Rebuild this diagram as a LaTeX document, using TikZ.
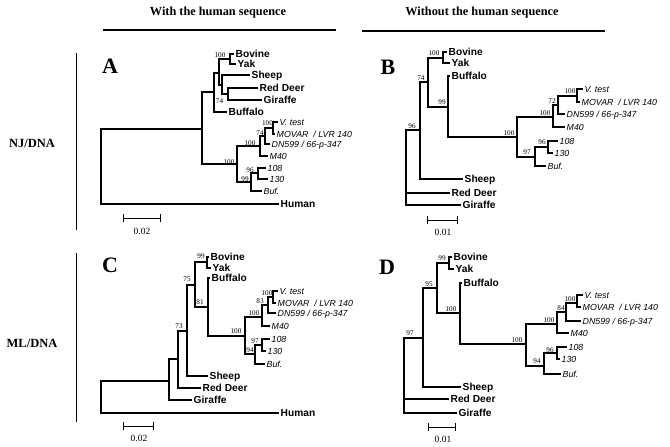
\documentclass[tikz,border=0pt]{standalone}
\usepackage{fontspec}
\setmainfont{Liberation Serif}
\newfontfamily\hv{Liberation Sans}
\begin{document}
\begin{tikzpicture}[x=1pt,y=-1pt,
  tree/.style={line width=1.05pt},
  rule/.style={line width=1.2pt},
  leaf/.style={anchor=west,font=\hv\bfseries\fontsize{10.2}{12}\selectfont,inner xsep=1.5pt,inner ysep=0pt,text height=7.2pt,text depth=0pt},
  vir/.style={anchor=west,font=\hv\itshape\fontsize{8.8}{10}\selectfont,inner xsep=1.5pt,inner ysep=0pt,text height=6.3pt,text depth=0pt},
  bs/.style={font=\fontsize{7.2}{8}\selectfont,inner sep=0pt},
  head/.style={font=\bfseries\fontsize{12.3}{14}\selectfont,inner sep=0pt},
  side/.style={font=\bfseries\fontsize{12.5}{14}\selectfont,inner sep=0pt},
  letter/.style={font=\bfseries\fontsize{22}{24}\selectfont,inner sep=0pt},
  sbar/.style={line width=1pt,|-|},
  sblab/.style={font=\fontsize{9.5}{10}\selectfont,inner sep=0pt}]
\useasboundingbox (0,0) rectangle (670,447);
% headers
\node[head] (h1) at (218,13) {With the human sequence};
\node[head] (h2) at (482,13) {Without the human sequence};
\coordinate (l1a) at (103,30); \coordinate (l1b) at (336,30);
\coordinate (l2a) at (362,31); \coordinate (l2b) at (605,31);
\draw[rule] (l1a) -- (l1b); \draw[rule] (l2a) -- (l2b);
\node[side] (nj) at (32,143) {NJ/DNA};
\node[side] (ml) at (32,343) {ML/DNA};
\coordinate (v1a) at (76,53); \coordinate (v1b) at (76,230);
\coordinate (v2a) at (76,253); \coordinate (v2b) at (76,422);
\draw[line width=0.9pt] (v1a) -- (v1b) (v2a) -- (v2b);
\node[letter] (LA) at (110,66) {A};
\node[letter] (LB) at (388,67) {B};
\node[letter] (LC) at (110,265) {C};
\node[letter] (LD) at (387,267) {D};

% ================= Tree A =================
\coordinate (rA) at (101,166);
\coordinate (a1) at (202,129);
\coordinate (a2) at (214,92);
\coordinate (a3) at (237,164);
\coordinate (a4) at (219,73);
\coordinate (aBY) at (230,59);
\coordinate (a5) at (222,85);
\coordinate (aRG) at (228,94);
\coordinate (am) at (260,146);
\coordinate (a74) at (265,136);
\coordinate (avm) at (273,128);
\coordinate (a99) at (251,182);
\coordinate (a96) at (258,173);
\node[leaf] (aBov) at (234,54) {Bovine};
\node[leaf] (aYak) at (236,64) {Yak};
\node[leaf] (aShe) at (250,75) {Sheep};
\node[leaf] (aRed) at (258,88) {Red Deer};
\node[leaf] (aGir) at (262,100) {Giraffe};
\node[leaf] (aBuf) at (227,112) {Buffalo};
\node[leaf] (aHum) at (279,204) {Human};
\node[vir] (aVt) at (278,122) {V. test};
\node[vir] (aMo) at (275,134) {MOVAR\ \ / LVR 140};
\node[vir] (aDn) at (270,144) {DN599 / 66-p-347};
\node[vir] (aM4) at (268,156) {M40};
\node[vir] (a108) at (266,168) {108};
\node[vir] (a130) at (268,179) {130};
\node[vir] (aBu) at (262,191) {Buf.};
\draw[tree] (rA) |- (a1) (rA) |- (aHum.west)
 (a1) |- (a2) (a1) |- (a3)
 (a2) |- (a4) (a2) |- (aBuf.west)
 (a4) |- (aBY) (a4) |- (a5)
 (aBY) |- (aBov.west) (aBY) |- (aYak.west)
 (a5) |- (aShe.west) (a5) |- (aRG)
 (aRG) |- (aRed.west) (aRG) |- (aGir.west)
 (a3) |- (am) (a3) |- (a99)
 (am) |- (a74) (am) |- (aM4.west)
 (a74) |- (avm) (a74) |- (aDn.west)
 (avm) |- (aVt.west) (avm) |- (aMo.west)
 (a99) |- (a96) (a99) |- (aBu.west)
 (a96) |- (a108.west) (a96) |- (a130.west);
\node[bs] (bA1) at (220,55) {100};
\node[bs] (bA2) at (219.5,101) {74};
\node[bs] (bA3) at (267.5,123) {100};
\node[bs] (bA4) at (260,133) {74};
\node[bs] (bA5) at (250,143) {100};
\node[bs] (bA6) at (229,162) {100};
\node[bs] (bA7) at (250,170) {96};
\node[bs] (bA8) at (245,179) {99};
\coordinate (sA1) at (123,218); \coordinate (sA2) at (161,218);
\draw[sbar] (sA1) -- (sA2);
\node[sblab] (sAl) at (142,231) {0.02};

% ================= Tree B =================
\coordinate (rB) at (406,167);
\coordinate (b96) at (420,130);
\coordinate (b74) at (428,82);
\coordinate (bBY) at (443,58);
\coordinate (b99) at (448,107);
\coordinate (b100) at (517,137);
\coordinate (bm) at (553,117);
\coordinate (b72) at (558,105);
\coordinate (bvm) at (577,96);
\coordinate (b97) at (535,157);
\coordinate (b96b) at (548,147);
\node[leaf] (bBov) at (447,52) {Bovine};
\node[leaf] (bYak) at (450,63) {Yak};
\node[leaf] (bBuf) at (450,76) {Buffalo};
\node[leaf] (bShe) at (463,179) {Sheep};
\node[leaf] (bRed) at (450,193) {Red Deer};
\node[leaf] (bGir) at (461,205) {Giraffe};
\node[vir] (bVt) at (583,89) {V. test};
\node[vir] (bMo) at (580,102) {MOVAR\ \ / LVR 140};
\node[vir] (bDn) at (565,114) {DN599 / 66-p-347};
\node[vir] (bM4) at (565,127) {M40};
\node[vir] (b108) at (558,141) {108};
\node[vir] (b130) at (553,153) {130};
\node[vir] (bBu) at (546,166) {Buf.};
\draw[tree] (rB) |- (b96) (rB) |- (bRed.west) (rB) |- (bGir.west)
 (b96) |- (b74) (b96) |- (bShe.west)
 (b74) |- (bBY) (b74) |- (b99)
 (bBY) |- (bBov.west) (bBY) |- (bYak.west)
 (b99) |- (bBuf.west) (b99) |- (b100)
 (b100) |- (bm) (b100) |- (b97)
 (bm) |- (b72) (bm) |- (bM4.west)
 (b72) |- (bvm) (b72) |- (bDn.west)
 (bvm) |- (bVt.west) (bvm) |- (bMo.west)
 (b97) |- (b96b) (b97) |- (bBu.west)
 (b96b) |- (b108.west) (b96b) |- (b130.west);
\node[bs] (bB1) at (434,53) {100};
\node[bs] (bB2) at (421,78) {74};
\node[bs] (bB3) at (412,126) {96};
\node[bs] (bB4) at (442,102) {99};
\node[bs] (bB5) at (509,133) {100};
\node[bs] (bB6) at (545,113) {100};
\node[bs] (bB7) at (552,101) {72};
\node[bs] (bB8) at (570,91) {100};
\node[bs] (bB9) at (527,152) {97};
\node[bs] (bB10) at (542,142) {96};
\coordinate (sB1) at (427,220); \coordinate (sB2) at (458,220);
\draw[sbar] (sB1) -- (sB2);
\node[sblab] (sBl) at (443,232) {0.01};

% ================= Tree C =================
\coordinate (rC) at (101,397);
\coordinate (c1) at (169,381);
\coordinate (c73) at (178,359);
\coordinate (c2) at (187,331);
\coordinate (c75) at (195,285);
\coordinate (cBY) at (207,262);
\coordinate (c81) at (208,307);
\coordinate (c100) at (245,336);
\coordinate (cm) at (262,317);
\coordinate (c83) at (268,305);
\coordinate (cvm) at (273,297);
\coordinate (c94) at (255,354);
\coordinate (c97) at (262,345);
\node[leaf] (cBov) at (209,257) {Bovine};
\node[leaf] (cYak) at (211,268) {Yak};
\node[leaf] (cBuf) at (210,278) {Buffalo};
\node[leaf] (cShe) at (208,376) {Sheep};
\node[leaf] (cRed) at (201,388) {Red Deer};
\node[leaf] (cGir) at (192,400) {Giraffe};
\node[leaf] (cHum) at (279,413) {Human};
\node[vir] (cVt) at (278,291) {V. test};
\node[vir] (cMo) at (276,303) {MOVAR\ \ / LVR 140};
\node[vir] (cDn) at (276,313) {DN599 / 66-p-347};
\node[vir] (cM4) at (270,326) {M40};
\node[vir] (c108) at (270,339) {108};
\node[vir] (c130) at (266,351) {130};
\node[vir] (cBu) at (265,364) {Buf.};
\draw[tree] (rC) |- (c1) (rC) |- (cHum.west)
 (c1) |- (c73) (c1) |- (cGir.west)
 (c73) |- (c2) (c73) |- (cRed.west)
 (c2) |- (c75) (c2) |- (cShe.west)
 (c75) |- (cBY) (c75) |- (c81)
 (cBY) |- (cBov.west) (cBY) |- (cYak.west)
 (c81) |- (cBuf.west) (c81) |- (c100)
 (c100) |- (cm) (c100) |- (c94)
 (cm) |- (c83) (cm) |- (cM4.west)
 (c83) |- (cvm) (c83) |- (cDn.west)
 (cvm) |- (cVt.west) (cvm) |- (cMo.west)
 (c94) |- (c97) (c94) |- (cBu.west)
 (c97) |- (c108.west) (c97) |- (c130.west);
\node[bs] (bC1) at (201,256) {99};
\node[bs] (bC2) at (187,279) {75};
\node[bs] (bC3) at (200,302) {81};
\node[bs] (bC4) at (179,326) {73};
\node[bs] (bC5) at (236,331) {100};
\node[bs] (bC6) at (254,313) {100};
\node[bs] (bC7) at (260,301) {83};
\node[bs] (bC8) at (267,293) {100};
\node[bs] (bC9) at (255,341) {97};
\node[bs] (bC10) at (250,350) {94};
\coordinate (sC1) at (123,426); \coordinate (sC2) at (154,426);
\draw[sbar] (sC1) -- (sC2);
\node[sblab] (sCl) at (139,438) {0.02};

% ================= Tree D =================
\coordinate (rD) at (404,375);
\coordinate (d97) at (423,338);
\coordinate (d95) at (437,288);
\coordinate (dBY) at (449,263);
\coordinate (d100a) at (460,313);
\coordinate (d100b) at (526,344);
\coordinate (dm) at (557,324);
\coordinate (d84) at (566,312);
\coordinate (dvm) at (577,303);
\coordinate (d94) at (544,366);
\coordinate (d96) at (557,353);
\node[leaf] (dBov) at (452,257) {Bovine};
\node[leaf] (dYak) at (454,269) {Yak};
\node[leaf] (dBuf) at (462,283) {Buffalo};
\node[leaf] (dShe) at (461,387) {Sheep};
\node[leaf] (dRed) at (449,399) {Red Deer};
\node[leaf] (dGir) at (457,413) {Giraffe};
\node[vir] (dVt) at (583,295) {V. test};
\node[vir] (dMo) at (581,307) {MOVAR\ \ / LVR 140};
\node[vir] (dDn) at (581,321) {DN599 / 66-p-347};
\node[vir] (dM4) at (569,333) {M40};
\node[vir] (d108) at (567,347) {108};
\node[vir] (d130) at (560,359) {130};
\node[vir] (dBu) at (561,374) {Buf.};
\draw[tree] (rD) |- (d97) (rD) |- (dRed.west) (rD) |- (dGir.west)
 (d97) |- (d95) (d97) |- (dShe.west)
 (d95) |- (dBY) (d95) |- (d100a)
 (dBY) |- (dBov.west) (dBY) |- (dYak.west)
 (d100a) |- (dBuf.west) (d100a) |- (d100b)
 (d100b) |- (dm) (d100b) |- (d94)
 (dm) |- (d84) (dm) |- (dM4.west)
 (d84) |- (dvm) (d84) |- (dDn.west)
 (dvm) |- (dVt.west) (dvm) |- (dMo.west)
 (d94) |- (d96) (d94) |- (dBu.west)
 (d96) |- (d108.west) (d96) |- (d130.west);
\node[bs] (bD1) at (442,258) {99};
\node[bs] (bD2) at (429,284) {95};
\node[bs] (bD3) at (410,333) {97};
\node[bs] (bD4) at (451,309) {100};
\node[bs] (bD5) at (517,340) {100};
\node[bs] (bD6) at (549,320) {100};
\node[bs] (bD7) at (561,308) {84};
\node[bs] (bD8) at (570,299) {100};
\node[bs] (bD9) at (537,361) {94};
\node[bs] (bD10) at (550,350) {96};
\coordinate (sD1) at (428,427); \coordinate (sD2) at (456,427);
\draw[sbar] (sD1) -- (sD2);
\node[sblab] (sDl) at (443,439) {0.01};
\end{tikzpicture}
\end{document}
